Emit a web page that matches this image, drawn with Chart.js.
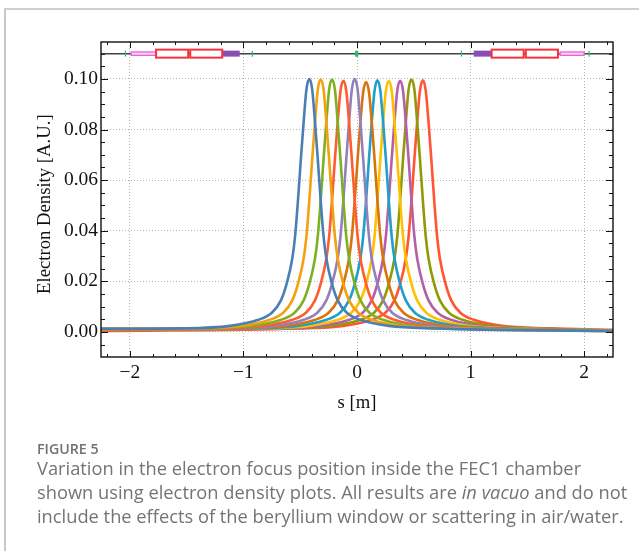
<!DOCTYPE html>
<html>
<head>
<meta charset="utf-8">
<script src="https://cdn.jsdelivr.net/npm/chart.js@4"></script>
<style>
html, body { margin: 0; padding: 0; background: #fff; }
#page { position: relative; width: 639px; height: 551px; overflow: hidden; }
#frame { position: absolute; left: 4px; top: 8px; width: 640px; height: 560px; border-left: 2px solid #c8c8c8; border-top: 2px solid #cfcfcf; }
#c { position: absolute; left: 0; top: 0; }
#fig { position: absolute; left: 37px; top: 439px; font: 600 14.2px "Open Sans", sans-serif; color: #707173; }
#cap { position: absolute; left: 37px; top: 456px; width: 600px; font: 18.3px/24px "Open Sans", sans-serif; color: #737476; white-space: nowrap; }
</style>
</head>
<body>
<div id="page">
  <div id="frame"></div>
  <canvas id="c" width="639" height="551"></canvas>
  <div id="fig">FIGURE 5</div>
  <div id="cap">Variation in the electron focus position inside the FEC1 chamber<br>shown using electron density plots. All results are <i>in vacuo</i> and do not<br>include the effects of the beryllium window or scattering in air/water.</div>
</div>
<script>
/* values */
var s0 = [-2.26,-1.52,-1.12,-.87,-.75,-.67,-.62,-.57,-.545,-.52,-.495,-.47,-.445,-.42,-.395,-.37,-.345,-.32,-.295,-.27,-.22,-.17,-.09,.03,.28,.68,2.26];
var s1 = [-2.26,-1.42,-1.02,-.77,-.65,-.57,-.52,-.47,-.445,-.42,-.395,-.37,-.345,-.32,-.295,-.27,-.245,-.22,-.195,-.17,-.12,-.07,.01,.13,.38,.78,2.26];
var s2 = [-2.26,-1.32,-.92,-.67,-.55,-.47,-.42,-.37,-.345,-.32,-.295,-.27,-.245,-.22,-.195,-.17,-.145,-.12,-.095,-.07,-.02,.03,.11,.23,.48,.88,2.26];
var s3 = [-2.26,-1.22,-.82,-.57,-.45,-.37,-.32,-.27,-.245,-.22,-.195,-.17,-.145,-.12,-.095,-.07,-.045,-.02,.005,.03,.08,.13,.21,.33,.58,.98,2.26];
var s4 = [-2.26,-1.12,-.72,-.47,-.35,-.27,-.22,-.17,-.145,-.12,-.095,-.07,-.045,-.02,.005,.03,.055,.08,.105,.13,.18,.23,.31,.43,.68,1.08,2.26];
var s5 = [-2.26,-1.02,-.62,-.37,-.25,-.17,-.12,-.07,-.045,-.02,.005,.03,.055,.08,.105,.13,.155,.18,.205,.23,.28,.33,.41,.53,.78,1.18,2.26];
var s6 = [-2.26,-.92,-.52,-.27,-.15,-.07,-.02,.03,.055,.08,.105,.13,.155,.18,.205,.23,.255,.28,.305,.33,.38,.43,.51,.63,.88,1.28,2.26];
var s7 = [-2.26,-.82,-.42,-.17,-.05,.03,.08,.13,.155,.18,.205,.23,.255,.28,.305,.33,.355,.38,.405,.43,.48,.53,.61,.73,.98,1.38,2.26];
var s8 = [-2.26,-.72,-.32,-.07,.05,.13,.18,.23,.255,.28,.305,.33,.355,.38,.405,.43,.455,.48,.505,.53,.58,.63,.71,.83,1.08,1.48,2.26];
var s9 = [-2.26,-.62,-.22,.03,.15,.23,.28,.33,.355,.38,.405,.43,.455,.48,.505,.53,.555,.58,.605,.63,.68,.73,.81,.93,1.18,1.58,2.26];
var s10 = [-2.26,-.52,-.12,.13,.25,.33,.38,.43,.455,.48,.505,.53,.555,.58,.605,.63,.655,.68,.705,.73,.78,.83,.91,1.03,1.28,1.68,2.26];

var d0 = [.0012,.0014,.0024,.0048,.0076,.0125,.019,.029,.038,.052,.068,.083,.096,.1000,.096,.083,.068,.052,.038,.029,.019,.0125,.0076,.0048,.0024,.0014,.0004];
var d1 = [.0011,.0014,.0024,.0048,.0076,.0125,.019,.029,.038,.052,.068,.083,.096,.0998,.096,.083,.068,.052,.038,.029,.019,.0125,.0076,.0048,.0024,.0014,.0004];
var d2 = [.0011,.0014,.0024,.0048,.0076,.0125,.019,.029,.038,.052,.068,.083,.096,.0998,.096,.083,.068,.052,.038,.029,.019,.0125,.0076,.0048,.0024,.0014,.0004];
var d3 = [.0011,.0014,.0024,.0048,.0076,.0125,.019,.029,.038,.052,.068,.083,.0955,.0993,.0955,.083,.068,.052,.038,.029,.019,.0125,.0076,.0048,.0024,.0014,.0005];
var d4 = [.0011,.0014,.0024,.0048,.0076,.0125,.019,.029,.038,.052,.068,.083,.096,.1000,.096,.083,.068,.052,.038,.029,.019,.0125,.0076,.0048,.0024,.0014,.0005];
var d5 = [.0010,.0014,.0024,.0048,.0076,.0125,.019,.029,.038,.052,.068,.083,.095,.0988,.095,.083,.068,.052,.038,.029,.019,.0125,.0076,.0048,.0024,.0014,.0005];
var d6 = [.0010,.0014,.0024,.0048,.0076,.0125,.019,.029,.038,.052,.068,.083,.0955,.0995,.0955,.083,.068,.052,.038,.029,.019,.0125,.0076,.0048,.0024,.0014,.0006];
var d7 = [.0010,.0014,.0024,.0048,.0076,.0125,.019,.029,.038,.052,.068,.083,.0955,.0992,.0955,.083,.068,.052,.038,.029,.019,.0125,.0076,.0048,.0024,.0014,.0006];
var d8 = [.0010,.0014,.0024,.0048,.0076,.0125,.019,.029,.038,.052,.068,.083,.0955,.0993,.0955,.083,.068,.052,.038,.029,.019,.0125,.0076,.0048,.0024,.0014,.0006];
var d9 = [.0012,.0014,.0024,.0048,.0076,.0125,.019,.029,.038,.052,.068,.083,.096,.0998,.096,.083,.068,.052,.038,.029,.019,.0125,.0076,.0048,.0024,.0014,.0006];
var d10 = [.0004,.0014,.0024,.0048,.0076,.0125,.019,.029,.038,.052,.068,.083,.0955,.0995,.0955,.083,.068,.052,.038,.029,.019,.0125,.0076,.0048,.0024,.0014,.0008];

var positions = [s0, s1, s2, s3, s4, s5, s6, s7, s8, s9, s10];
var densities = [d0, d1, d2, d3, d4, d5, d6, d7, d8, d9, d10];
var colors = ["#4a7fb5", "#f5a00f", "#7fb024", "#ff5c30", "#9180bd", "#d9730d", "#1f9fc9", "#ffc000", "#b55fa8", "#8f9a05", "#ff5533"];

var xTicks = [-2, -1, 0, 1, 2];
var yTicks = [0, 0.02, 0.04, 0.06, 0.08, 0.10];
var xMinor = [-2.2,-1.8,-1.6,-1.4,-1.2,-.8,-.6,-.4,-.2,.2,.4,.6,.8,1.2,1.4,1.6,1.8,2.2];
var yMinor = [-.005,.005,.01,.015,.025,.03,.035,.045,.05,.055,.065,.07,.075,.085,.09,.095,.105,.11];

/* beamline schematic along the top: [start s, end s] */
var beamY = 0.110;
var pinkBoxes = [[-1.99, -1.77], [1.79, 2.0]];
var redBoxes = [[-1.77, -1.487], [-1.469, -1.187], [1.186, 1.468], [1.487, 1.77]];
var purpleBoxes = [[-1.187, -1.033], [1.028, 1.186]];
var greenMarks = [-2.04, -0.922, -0.012, -0.003, 0.006, 0.92, 2.044];

var datasets = positions.map(function (s, i) {
    return {
        data: s.map(function (v, j) { return {x: v, y: densities[i][j]}; }),
        borderColor: colors[i],
        borderWidth: 2.6,
        pointRadius: 0,
        fill: false,
        cubicInterpolationMode: 'monotone'
    };
});

var frameAndLattice = {
    id: 'frameAndLattice',
    afterDraw: function (chart) {
        var ctx = chart.ctx, a = chart.chartArea;
        var x = chart.scales.x, y = chart.scales.y;
        var yb = y.getPixelForValue(beamY);
        ctx.save();

        ctx.strokeStyle = '#111';
        ctx.lineWidth = 1;
        function tick(x0, y0, x1, y1) {
            ctx.beginPath(); ctx.moveTo(x0, y0); ctx.lineTo(x1, y1); ctx.stroke();
        }
        xTicks.forEach(function (v) {
            var p = Math.round(x.getPixelForValue(v)) + 0.5;
            tick(p, a.bottom, p, a.bottom - 6); tick(p, a.top, p, a.top + 6);
        });
        xMinor.forEach(function (v) {
            var p = Math.round(x.getPixelForValue(v)) + 0.5;
            tick(p, a.bottom, p, a.bottom - 3); tick(p, a.top, p, a.top + 3);
        });
        yTicks.forEach(function (v) {
            var p = Math.round(y.getPixelForValue(v)) + 0.5;
            tick(a.left, p, a.left + 7, p); tick(a.right, p, a.right - 7, p);
        });
        yMinor.forEach(function (v) {
            var p = Math.round(y.getPixelForValue(v)) + 0.5;
            tick(a.left, p, a.left + 4, p); tick(a.right, p, a.right - 4, p);
        });

        // beam axis
        ctx.strokeStyle = '#444';
        ctx.lineWidth = 1.5;
        tick(a.left, yb, a.right, yb);

        greenMarks.forEach(function (v) {
            var p = x.getPixelForValue(v);
            ctx.strokeStyle = '#22c060';
            ctx.lineWidth = 1.2;
            tick(p, yb - 3, p, yb + 3);
        });
        pinkBoxes.forEach(function (b) {
            var p0 = x.getPixelForValue(b[0]), p1 = x.getPixelForValue(b[1]);
            ctx.fillStyle = '#fbd0f3';
            ctx.strokeStyle = '#ea64da';
            ctx.lineWidth = 1.3;
            ctx.fillRect(p0, yb - 1.7, p1 - p0, 3.4);
            ctx.strokeRect(p0, yb - 1.7, p1 - p0, 3.4);
        });
        purpleBoxes.forEach(function (b) {
            var p0 = x.getPixelForValue(b[0]), p1 = x.getPixelForValue(b[1]);
            ctx.fillStyle = '#8b4db5';
            ctx.fillRect(p0, yb - 3, p1 - p0, 6);
        });
        redBoxes.forEach(function (b) {
            var p0 = x.getPixelForValue(b[0]), p1 = x.getPixelForValue(b[1]);
            ctx.fillStyle = '#fff';
            ctx.strokeStyle = '#f5323c';
            ctx.lineWidth = 2;
            ctx.fillRect(p0, yb - 4, p1 - p0, 8);
            ctx.strokeRect(p0, yb - 4, p1 - p0, 8);
        });

        ctx.strokeStyle = '#111';
        ctx.lineWidth = 1.4;
        ctx.strokeRect(a.left, a.top, a.right - a.left, a.bottom - a.top);
        ctx.restore();
    }
};

var gridStyle = {
    color: '#b5b5b5',
    lineWidth: 1,
    drawTicks: false
};

var config = {
    type: 'line',
    data: { datasets: datasets },
    plugins: [frameAndLattice],
    options: {
        responsive: false,
        animation: false,
        layout: { padding: { left: 34, right: 26, top: 42, bottom: 137 } },
        plugins: { legend: { display: false }, tooltip: { enabled: false } },
        scales: {
            x: {
                type: 'linear',
                min: -2.255,
                max: 2.255,
                afterFit: function (s) { s.height = 57; },
                afterBuildTicks: function (s) { s.ticks = xTicks.map(function (v) { return {value: v}; }); },
                grid: gridStyle,
                border: { display: false, dash: [1, 2] },
                ticks: {
                    color: '#111',
                    padding: 4,
                    maxRotation: 0,
                    font: { family: '"Liberation Serif"', size: 19.5 },
                    callback: function (v) { return v < 0 ? '\u2212' + Math.abs(v) : String(v); }
                },
                title: {
                    display: true,
                    text: 's [m]',
                    color: '#111',
                    padding: 0,
                    font: { family: '"Liberation Serif"', size: 18.7 }
                }
            },
            y: {
                type: 'linear',
                min: -0.0099,
                max: 0.1146,
                afterFit: function (s) { s.width = 67; },
                afterBuildTicks: function (s) { s.ticks = yTicks.map(function (v) { return {value: v}; }); },
                grid: gridStyle,
                border: { display: false, dash: [1, 2] },
                ticks: {
                    color: '#111',
                    padding: 3,
                    font: { family: '"Liberation Serif"', size: 19.5 },
                    callback: function (v) { return v.toFixed(2); }
                },
                title: {
                    display: true,
                    text: 'Electron Density [A.U.]  ',
                    color: '#111',
                    padding: 0,
                    font: { family: '"Liberation Serif"', size: 18.7 }
                }
            }
        }
    }
};

var ctx = document.getElementById("c").getContext("2d");
var myChart = new Chart(ctx, config);
</script>
</body>
</html>
